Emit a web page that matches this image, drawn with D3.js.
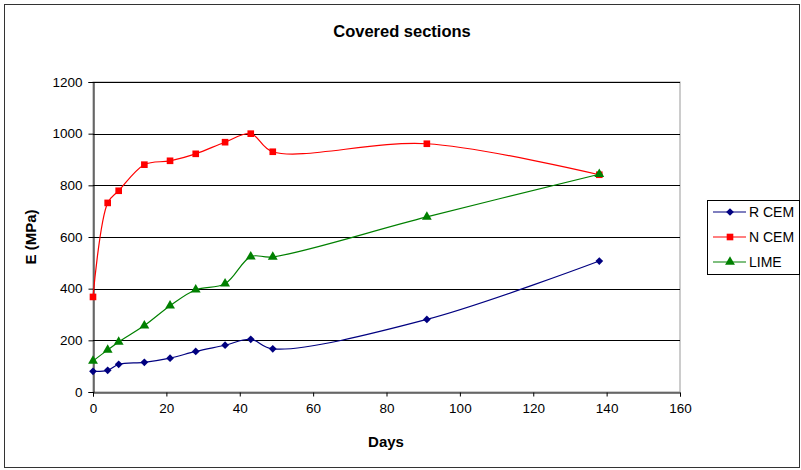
<!DOCTYPE html>
<html>
<head>
<meta charset="utf-8">
<script src="https://cdn.jsdelivr.net/npm/d3@7"></script>
<style>
  body { margin: 0; background: #fff; }
  svg { font-family: "Liberation Sans", Arial, sans-serif; }
</style>
</head>
<body>
<svg id="chart" width="801" height="470"></svg>
<script>
const days = [0, 4, 7, 14, 21, 28, 36, 43, 49, 91, 138];
const rCem = [80, 84, 107, 115, 131, 157, 181, 204, 167, 281, 507];
const nCem = [368, 732, 779, 880, 895, 922, 967, 1000, 930, 961, 841];
const lime = [120, 163, 194, 257, 334, 396, 419, 524, 523, 678, 843];
const seriesNames = ['R CEM', 'N CEM', 'LIME'];
const xTicks = [0, 20, 40, 60, 80, 100, 120, 140, 160];
const yTicks = [0, 200, 400, 600, 800, 1000, 1200];

const svg = d3.select('#chart');
const margin = { left: 93, right: 121, top: 82, bottom: 78 };
const width = 801, height = 470;

// outer frame
svg.append('rect')
  .attr('x', 4.5).attr('y', 4.5)
  .attr('width', 795).attr('height', 463)
  .attr('fill', '#fff').attr('stroke', '#333').attr('stroke-width', 1);

const x = d3.scaleLinear().domain([0, 160]).range([margin.left, width - margin.right]);
const y = d3.scaleLinear().domain([0, 1200]).range([height - margin.bottom, margin.top]);

// plot frame
svg.append('rect')
  .attr('x', x(0)).attr('y', y(1200))
  .attr('width', x(160) - x(0)).attr('height', y(0) - y(1200))
  .attr('fill', 'none').attr('stroke', '#999');

// gridlines
svg.append('g').selectAll('line')
  .data(yTicks.slice(1))
  .enter().append('line')
  .attr('x1', x(0)).attr('x2', x(160))
  .attr('y1', d => Math.round(y(d)) + 0.5).attr('y2', d => Math.round(y(d)) + 0.5)
  .attr('stroke', '#000');

const xAxis = svg.append('g')
  .attr('transform', `translate(0, ${Math.round(y(0)) + 0.5})`)
  .call(d3.axisBottom(x).tickValues(xTicks).tickFormat(d3.format('d')).tickSize(4).tickPadding(7));
const yAxis = svg.append('g')
  .attr('transform', `translate(${Math.round(x(0)) + 0.5}, 0)`)
  .call(d3.axisLeft(y).tickValues(yTicks).tickFormat(d3.format('d')).tickSize(5).tickPadding(6));

[xAxis, yAxis].forEach(g => {
  g.selectAll('text').attr('font-size', 13.5).attr('font-family', '"Liberation Sans", Arial, sans-serif').attr('fill', '#000');
  g.selectAll('line').attr('stroke', '#000');
  g.select('.domain').attr('stroke', '#000');
});

svg.append('text')
  .attr('x', 402).attr('y', 37)
  .attr('text-anchor', 'middle')
  .attr('font-size', 16.5).attr('font-weight', 'bold')
  .text('Covered sections');

svg.append('text')
  .attr('x', 386).attr('y', 447)
  .attr('text-anchor', 'middle')
  .attr('font-size', 15).attr('font-weight', 'bold')
  .text('Days');

svg.append('text')
  .attr('transform', 'translate(36, 237) rotate(-90)')
  .attr('text-anchor', 'middle')
  .attr('font-size', 15).attr('font-weight', 'bold')
  .text('E (MPa)');

// diamonds are squares turned by 45 degrees
const series = [
  { name: seriesNames[0], values: rCem, color: '#000080', shape: d3.symbolSquare, size: 30, rot: 45 },
  { name: seriesNames[1], values: nCem, color: '#ff0000', shape: d3.symbolSquare, size: 44, rot: 0 },
  { name: seriesNames[2], values: lime, color: '#008000', shape: d3.symbolTriangle, size: 42, rot: 0 }
];

const line = d3.line()
  .x(d => x(d[0]))
  .y(d => y(d[1]))
  .curve(d3.curveCatmullRom.alpha(0.5));

series.forEach(s => {
  const pts = days.map((d, i) => [d, s.values[i]]);
  svg.append('path')
    .datum(pts)
    .attr('d', line)
    .attr('fill', 'none')
    .attr('stroke', s.color)
    .attr('stroke-width', 1.2);
  svg.append('g').selectAll('path')
    .data(pts)
    .enter().append('path')
    .attr('transform', d => `translate(${x(d[0])}, ${y(d[1])}) rotate(${s.rot})`)
    .attr('d', d3.symbol().type(s.shape).size(s.size))
    .attr('fill', s.color);
});

// legend
const legend = svg.append('g').attr('transform', 'translate(707, 200)');
legend.append('rect')
  .attr('x', 0.5).attr('y', 0.5).attr('width', 92).attr('height', 74)
  .attr('fill', '#fff').attr('stroke', '#000');
const items = legend.selectAll('g.item')
  .data(series)
  .enter().append('g')
  .attr('class', 'item')
  .attr('transform', (d, i) => `translate(0, ${12 + i * 25})`);
items.append('line')
  .attr('x1', 6).attr('x2', 39)
  .attr('stroke', d => d.color).attr('stroke-width', 1.2);
items.append('path')
  .attr('transform', d => `translate(23, 0) rotate(${d.rot})`)
  .attr('d', d => d3.symbol().type(d.shape).size(d.size)())
  .attr('fill', d => d.color);
items.append('text')
  .attr('x', 42).attr('y', 5)
  .attr('font-size', 14)
  .text(d => d.name);
</script>
</body>
</html>
